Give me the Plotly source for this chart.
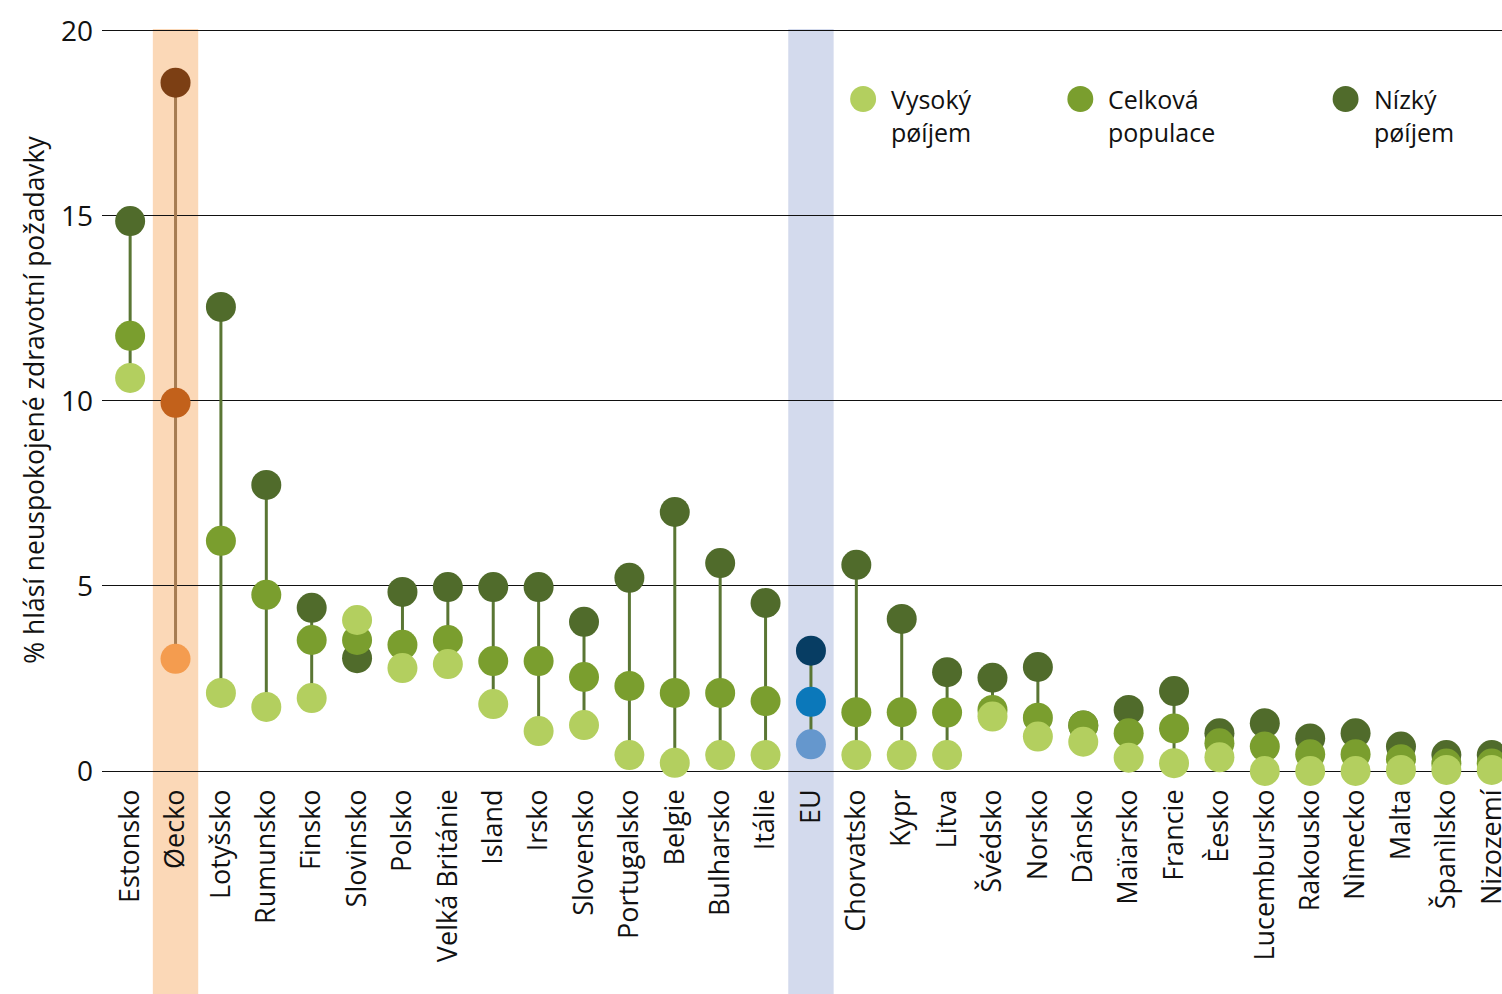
import plotly.graph_objects as go

countries = ["Estonsko", "Øecko", "Lotyšsko", "Rumunsko", "Finsko", "Slovinsko", "Polsko",
             "Velká Británie", "Island", "Irsko", "Slovensko", "Portugalsko", "Belgie",
             "Bulharsko", "Itálie", "EU", "Chorvatsko", "Kypr", "Litva", "Švédsko", "Norsko",
             "Dánsko", "Maïarsko", "Francie", "Èesko", "Lucembursko", "Rakousko", "Nìmecko",
             "Malta", "Španìlsko", "Nizozemí"]

low_income = [14.86, 18.6, 12.54, 7.73, 4.41, 3.05, 4.84, 4.97, 4.97, 4.97, 4.03, 5.22, 7.0,
              5.62, 4.54, 3.25, 5.57, 4.11, 2.67, 2.52, 2.81, 1.23, 1.65, 2.16, 1.02, 1.29,
              0.88, 1.02, 0.66, 0.43, 0.43]
total_pop = [11.76, 9.95, 6.22, 4.76, 3.54, 3.54, 3.41, 3.54, 2.97, 2.97, 2.54, 2.30, 2.11,
             2.11, 1.89, 1.87, 1.59, 1.59, 1.58, 1.65, 1.44, 1.23, 1.02, 1.15, 0.75, 0.66,
             0.45, 0.45, 0.32, 0.2, 0.2]
high_income = [10.62, 3.03, 2.11, 1.73, 1.97, 4.08, 2.78, 2.89, 1.81, 1.08, 1.24, 0.43, 0.22,
               0.43, 0.43, 0.72, 0.43, 0.43, 0.43, 1.47, 0.93, 0.79, 0.36, 0.21, 0.37, 0.0,
               0.0, 0.0, 0.03, 0.03, 0.03]

y_ticks = [0, 5, 10, 15, 20]
legend_labels = ["Vysoký<br>pøíjem", "Celková<br>populace", "Nízký<br>pøíjem"]

FONT = "Open Sans"
C_LOW, C_TOT, C_HIGH = "#506b2b", "#7a9e2e", "#b3cf5f"
GR = {"low": "#7c3f14", "tot": "#c2611b", "high": "#f49c4f", "band": "#fbd8b7", "stem": "#a67c52"}
EU = {"low": "#073d63", "tot": "#0b78ba", "high": "#6597cd", "band": "#d3daed", "stem": "#5a7634"}
STEM = "#5a7634"

idx = list(range(len(countries)))
gi = countries.index("Øecko")
ei = countries.index("EU")

def colors(base, key):
    out = []
    for i in idx:
        if i == gi:
            out.append(GR[key])
        elif i == ei:
            out.append(EU[key])
        else:
            out.append(base)
    return out

fig = go.Figure()

# stems
for group, col in [("normal", STEM), ("gr", GR["stem"]), ("eu", EU["stem"])]:
    xs, ys = [], []
    for i in idx:
        g = "gr" if i == gi else ("eu" if i == ei else "normal")
        if g != group:
            continue
        lo = min(low_income[i], total_pop[i], high_income[i])
        hi = max(low_income[i], total_pop[i], high_income[i])
        xs += [i, i, None]
        ys += [lo, hi, None]
    fig.add_trace(go.Scatter(x=xs, y=ys, mode="lines", line=dict(color=col, width=3),
                             showlegend=False, hoverinfo="skip", cliponaxis=False))

for vals, base, key in [(low_income, C_LOW, "low"), (total_pop, C_TOT, "tot"), (high_income, C_HIGH, "high")]:
    fig.add_trace(go.Scatter(x=idx, y=vals, mode="markers",
                             marker=dict(size=30, color=colors(base, key), line=dict(width=0)),
                             showlegend=False, cliponaxis=False))

# small horizontal compensation for the capture
SX = 1 / 0.9962
W, H = round(1502 * SX), 994
L, R = round(102 * SX), 0
T = 29
B = H - 771
pw, ph = W - L - R, H - T - B

# highlight bands
for i, c in [(gi, GR["band"]), (ei, EU["band"])]:
    fig.add_shape(type="rect", xref="x", yref="paper", x0=i - 0.5, x1=i + 0.5,
                  y0=-(B + 10) / ph, y1=1, fillcolor=c, line=dict(width=0), layer="below")

# legend drawn manually (picture coords -> paper)
leg_x = [862, 1079, 1344]
leg_cols = [C_HIGH, C_TOT, C_LOW]

def px(xp):
    return (xp * SX - L) / pw

def py(yp):
    return (H - B - yp) / ph

for lx, lab, col in zip(leg_x, legend_labels, leg_cols):
    cx, cy = px(lx), py(99)
    rx, ry = 13 / pw, 13 / ph
    fig.add_shape(type="circle", xref="paper", yref="paper", x0=cx - rx, x1=cx + rx,
                  y0=cy - ry, y1=cy + ry, fillcolor=col, line=dict(width=0))
    fig.add_annotation(xref="paper", yref="paper", x=px(lx + 26), y=py(115),
                       text=lab, showarrow=False, xanchor="left", yanchor="middle", align="left",
                       font=dict(family=FONT, size=25, color="#111"))

fig.update_layout(
    width=W, height=H,
    margin=dict(l=L, r=R, t=T, b=B),
    plot_bgcolor="white", paper_bgcolor="white",
    font=dict(family=FONT, color="#111"),
    xaxis=dict(range=[-0.62, 30.27], tickmode="array", tickvals=idx, ticktext=countries,
               tickangle=-90, tickfont=dict(size=27), showgrid=False, zeroline=False,
               showline=False, ticks="", ticklabelstandoff=12, ticklabeloverflow="allow"),
    yaxis=dict(range=[0, 20.05], tickmode="array", tickvals=y_ticks, tickfont=dict(size=28),
               showgrid=True, gridcolor="#111", gridwidth=1.3, zeroline=True,
               zerolinecolor="#111", zerolinewidth=1.3, showline=False, ticks="",
               ticklabelstandoff=8,
               title=dict(text="% hlásí neuspokojené zdravotní požadavky", font=dict(size=26.5),
                          standoff=8)),
)

fig.write_html("out.html", config={"displayModeBar": False},
               post_script="document.body.style.margin='0';document.body.style.overflow='hidden';")
